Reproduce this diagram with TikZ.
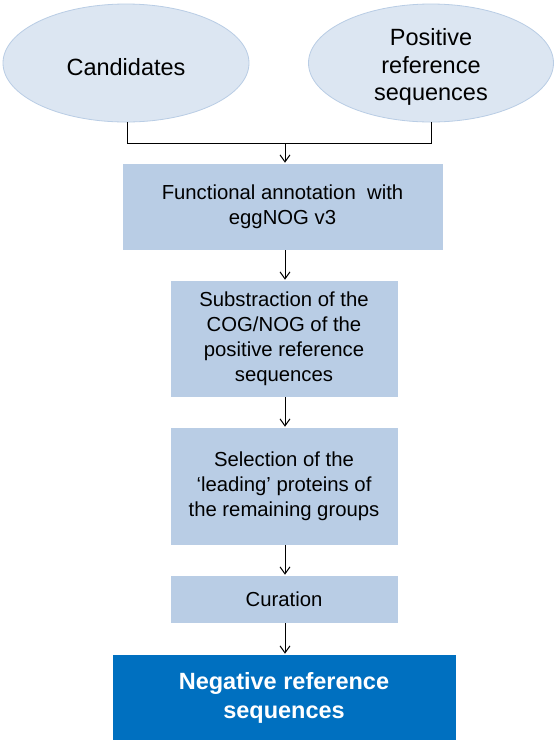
\documentclass[tikz,border=0pt]{standalone}
\usepackage{fontspec}
\setmainfont{Liberation Sans}
\usetikzlibrary{shapes.geometric,arrows.meta}
\definecolor{ellfill}{HTML}{DCE6F2}
\definecolor{ellline}{HTML}{B9CDE5}
\definecolor{boxfill}{HTML}{B9CDE5}
\definecolor{darkbox}{HTML}{0070C0}
\begin{document}
\begin{tikzpicture}[x=1pt,y=-1pt,
  ell/.style={ellipse,draw=ellline,line width=0.8pt,fill=ellfill,inner sep=0pt},
  elltext/.style={inner sep=0pt,font=\fontsize{23.5}{27.5}\selectfont,align=center,text=black},
  stepbox/.style={rectangle,fill=boxfill,draw=white,line width=0.6pt,inner sep=0pt,
    font=\fontsize{20.3}{25}\selectfont,align=center,text=black},
  finalbox/.style={rectangle,fill=darkbox,draw=white,line width=0.6pt,inner sep=0pt,
    font=\fontsize{23.5}{29}\selectfont\bfseries,align=center,text=white},
  arr/.style={-{Straight Barb[length=7pt,width=10pt]},line width=1pt,black},
  conn/.style={line width=1pt,black}]
\useasboundingbox (0,0) rectangle (554,740);
\fill[white] (0,0) rectangle (554,740);
\node[ell,minimum width=246pt,minimum height=118pt] (cand) at (126,63) {};
\node[elltext] (candt) at (126,67) {Candidates};
\node[ell,minimum width=245pt,minimum height=118pt] (pos) at (431,63) {};
\node[elltext] (post) at (431,67) {Positive\\reference\\sequences};
\node[stepbox,minimum width=321pt,minimum height=87pt] (func) at (282.5,206.5) {Functional annotation\ \ with\\eggNOG v3};
\node[stepbox,minimum width=228pt,minimum height=117pt] (sub) at (284,338.5) {Substraction of the\\COG/NOG of the\\positive reference\\sequences};
\node[stepbox,minimum width=228pt,minimum height=118pt] (sel) at (284,486) {Selection of the\\‘leading’ proteins of\\the remaining groups};
\node[stepbox,minimum width=228pt,minimum height=48pt] (cur) at (284,599) {Curation};
\node[finalbox,minimum width=344pt,minimum height=88pt] (neg) at (284,698) {Negative reference\\sequences};
\coordinate (j) at (285,143);
\draw[conn] (cand.south -| 127,0) |- (j);
\draw[conn] (pos.south -| 431,0) |- (j);
\draw[arr] (j) -- (j |- func.north);
\draw[arr] (func.south -| 285,0) -- (sub.north -| 285,0);
\draw[arr] (sub.south -| 285,0) -- (sel.north -| 285,0);
\draw[arr] (sel.south -| 285,0) -- (cur.north -| 285,0);
\draw[arr] (cur.south -| 285,0) -- (neg.north -| 285,0);
\end{tikzpicture}
\end{document}
